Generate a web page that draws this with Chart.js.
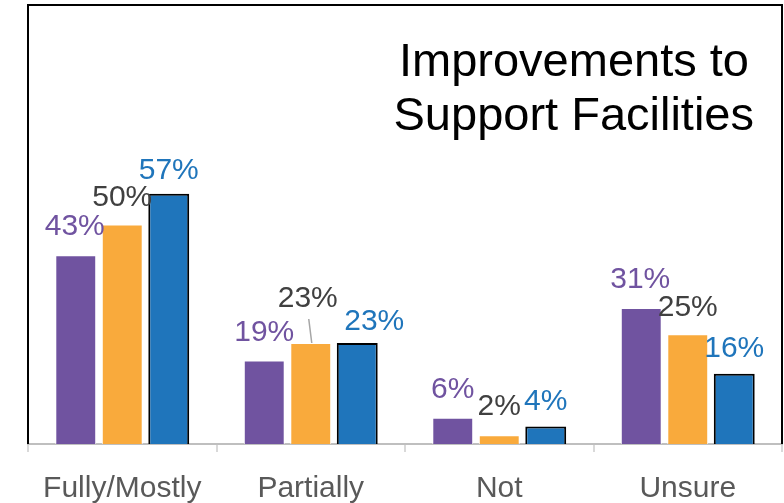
<!DOCTYPE html>
<html>
<head>
<meta charset="utf-8">
<script src="https://cdn.jsdelivr.net/npm/chart.js@4/dist/chart.umd.min.js"></script>
<style>
  html, body { margin: 0; padding: 0; background: #ffffff; }
  #wrap { width: 784px; height: 503px; }
</style>
</head>
<body>
<div id="wrap"><canvas id="chart"></canvas></div>
<script>
const categories = ["Fully/Mostly", "Partially", "Not", "Unsure"];
const seriesA = [43, 19, 6, 31];
const seriesB = [50, 23, 2, 25];
const seriesC = [57, 23, 4, 16];
const titleLines = ["Improvements to", "Support Facilities"];

// where each value label sits relative to the top of its bar (px)
const labelShiftX = [[-1, 0, 0, -1], [0, -3, 0, 0], [0, 17, 0, 0]];
const labelShiftY = [[-28, -28, -28, -28], [-27, -44, -28, -27], [-23, -21, -25, -25]];

const purple = "#7053A0";
const orange = "#F9AA3C";
const blue = "#1F75BB";
const font = "'Liberation Sans', Arial, sans-serif";

// black frame round the plot (left, top, right)
const framePlugin = {
    id: "frame",
    afterDraw(chart) {
        const a = chart.chartArea;
        const ctx = chart.ctx;
        ctx.save();
        ctx.strokeStyle = "#000000";
        ctx.lineWidth = 2;
        ctx.beginPath();
        ctx.moveTo(a.left, a.bottom);
        ctx.lineTo(a.left, a.top);
        ctx.lineTo(a.right, a.top);
        ctx.lineTo(a.right, a.bottom);
        ctx.stroke();
        ctx.restore();
    }
};

// title drawn inside the plot, top right
const titlePlugin = {
    id: "insideTitle",
    afterDraw(chart) {
        const a = chart.chartArea;
        const ctx = chart.ctx;
        ctx.save();
        ctx.fillStyle = "#000000";
        ctx.font = "47px " + font;
        ctx.textAlign = "right";
        ctx.textBaseline = "alphabetic";
        ctx.fillText(titleLines[0], a.right - 33, 76);
        ctx.fillText(titleLines[1], a.right - 28, 130);
        ctx.restore();
    }
};

// value labels above each bar
const labelPlugin = {
    id: "valueLabels",
    afterDatasetsDraw(chart) {
        const ctx = chart.ctx;
        ctx.save();
        ctx.font = "30px " + font;
        ctx.textAlign = "center";
        ctx.textBaseline = "middle";
        chart.data.datasets.forEach((ds, i) => {
            const meta = chart.getDatasetMeta(i);
            meta.data.forEach((bar, j) => {
                const x = bar.x + labelShiftX[i][j];
                const y = bar.y + labelShiftY[i][j];
                ctx.fillStyle = ds.labelColor;
                ctx.fillText(ds.data[j] + "%", x, y);
                // leader line for the label lifted off its bar
                if (labelShiftY[i][j] < -40) {
                    ctx.strokeStyle = "#A6A6A6";
                    ctx.lineWidth = 1.5;
                    ctx.beginPath();
                    ctx.moveTo(x + 1, y + 20);
                    ctx.lineTo(bar.x + 1, bar.y);
                    ctx.stroke();
                }
            });
        });
        ctx.restore();
    }
};

new Chart(document.getElementById("chart"), {
    type: "bar",
    data: {
        labels: categories,
        datasets: [
            {
                label: "A",
                data: seriesA,
                backgroundColor: purple,
                borderColor: "#ffffff",
                borderWidth: 1,
                labelColor: purple,
                categoryPercentage: 0.74,
                barPercentage: 0.88
            },
            {
                label: "B",
                data: seriesB,
                backgroundColor: orange,
                borderColor: "#ffffff",
                borderWidth: 1,
                labelColor: "#404040",
                categoryPercentage: 0.74,
                barPercentage: 0.88
            },
            {
                label: "C",
                data: seriesC,
                backgroundColor: blue,
                borderColor: "#000000",
                borderWidth: 2,
                labelColor: blue,
                categoryPercentage: 0.74,
                barPercentage: 0.88
            }
        ]
    },
    options: {
        responsive: true,
        maintainAspectRatio: false,
        animation: false,
        layout: { padding: { left: 28, right: 2, top: 5, bottom: 0 } },
        plugins: {
            legend: { display: false },
            tooltip: { enabled: false },
            title: { display: false }
        },
        scales: {
            x: {
                afterFit(scale) { scale.height = 59; },
                grid: {
                    display: true,
                    offset: true,
                    drawOnChartArea: false,
                    drawTicks: true,
                    tickLength: 8,
                    color: "#D9D9D9",
                    lineWidth: 2
                },
                border: { display: true, color: "#BFBFBF", width: 2 },
                ticks: {
                    color: "#595959",
                    padding: 19,
                    font: { family: font, size: 30 }
                }
            },
            y: {
                display: false,
                min: 0,
                max: 100
            }
        }
    },
    plugins: [framePlugin, titlePlugin, labelPlugin]
});
</script>
</body>
</html>
